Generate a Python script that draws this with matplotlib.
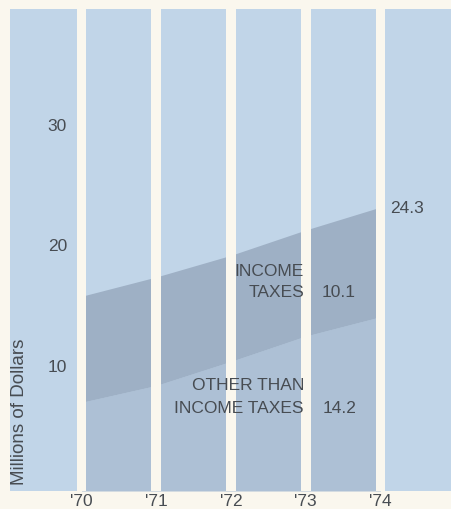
import matplotlib
matplotlib.use('Agg')
import matplotlib.pyplot as plt

# values (millions of dollars)
years = [1970, 1971, 1972, 1973, 1974]
year_labels = ["'70", "'71", "'72", "'73", "'74"]
other_taxes = [6.9, 8.3, 10.3, 12.4, 14.0]
income_taxes = [8.8, 9.0, 8.8, 8.8, 9.1]
y_ticks = [10, 20, 30]
total_label = '24.3'
income_label = '10.1'
other_label = '14.2'

total = [o + i for o, i in zip(other_taxes, income_taxes)]

bg = '#faf7ee'
panel = '#c1d5e8'
low = '#adc0d5'
band = '#9eb0c5'
ink = '#474c52'
fs = 12.5

plt.rcParams['font.family'] = ['Liberation Sans', 'DejaVu Sans']

fig = plt.figure(figsize=(4.52, 5.10), dpi=100)
fig.set_facecolor(bg)
ax = fig.add_axes([10 / 452, 18 / 510, 442 / 452, 482 / 510])
ax.set_facecolor(panel)

ymin, ymax = -0.46, 39.54
ax.fill_between(years, ymin, other_taxes, color=low, lw=0)
ax.fill_between(years, other_taxes, total, color=band, lw=0)

# cream gutters between the columns, one at every year
for yr in years:
    ax.axvspan(yr - 0.064, yr + 0.064, color=bg, lw=0, zorder=3)

ax.set_xlim(1969.043, 1974.957)
ax.set_ylim(ymin, ymax)
for s in ax.spines.values():
    s.set_visible(False)

ax.set_xticks(years)
ax.set_xticklabels(year_labels, fontsize=fs, color=ink)
ax.tick_params(axis='x', length=0, pad=1.5)
ax.set_yticks(y_ticks)
ax.set_yticklabels([str(t) for t in y_ticks], fontsize=fs, color=ink)
ax.tick_params(axis='y', length=0, pad=-41)

ax.text(0.0226, 0.0145, 'Millions of Dollars', transform=ax.transAxes,
        rotation=90, ha='center', va='bottom', fontsize=13.5, color=ink)

ax.text(years[-1] + 0.13, total[-1], total_label, ha='left', va='center',
        fontsize=fs, color=ink, zorder=5)

ax.text(1972.976, 17.8, 'INCOME', ha='right', va='center', fontsize=fs, color=ink, zorder=5)
ax.text(1972.976, 16.06, 'TAXES', ha='right', va='center', fontsize=fs, color=ink, zorder=5)
ax.text(1973.217, 16.06, income_label, ha='left', va='center', fontsize=fs, color=ink, zorder=5)

ax.text(1972.976, 8.34, 'OTHER THAN', ha='right', va='center', fontsize=fs, color=ink, zorder=5)
ax.text(1972.976, 6.5, 'INCOME TAXES', ha='right', va='center', fontsize=fs, color=ink, zorder=5)
ax.text(1973.23, 6.43, other_label, ha='left', va='center', fontsize=fs, color=ink, zorder=5)

fig.savefig('out.png', dpi=100, facecolor=bg)
